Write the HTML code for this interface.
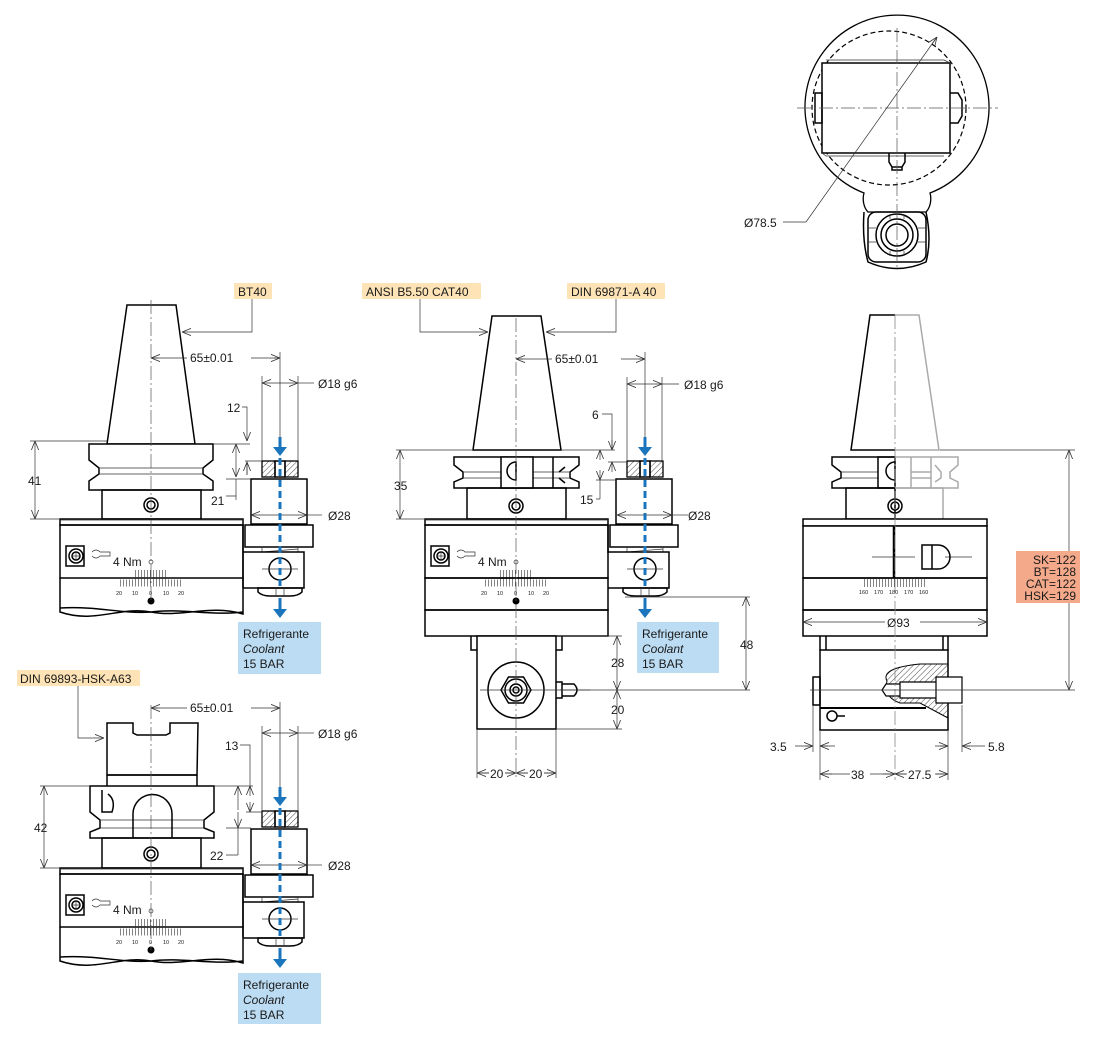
<!DOCTYPE html>
<html><head><meta charset="utf-8"><style>
html,body{margin:0;padding:0;background:#fff}
svg{display:block}
text{font-family:"Liberation Sans",Arial,sans-serif;fill:#1a1a1a}
.o{fill:none;stroke:#000;stroke-width:1.5}
.of{fill:#fff;stroke:#000;stroke-width:1.5}
.t{fill:none;stroke:#333;stroke-width:0.7}
.c{fill:none;stroke:#555;stroke-width:0.7;stroke-dasharray:14 3 2 3}
.g{fill:none;stroke:#aaa;stroke-width:1.5}
.d{fill:none;stroke:#333;stroke-width:0.7;marker-start:url(#a);marker-end:url(#a)}
.de{fill:none;stroke:#333;stroke-width:0.7;marker-end:url(#a)}
.blue{stroke:#1b75bc;stroke-width:3;fill:none}
</style></head><body>
<svg width="1104" height="1040" viewBox="0 0 1104 1040" xmlns="http://www.w3.org/2000/svg">
<defs>
<marker id="a" viewBox="0 0 10 10" refX="10" refY="5" markerWidth="9" markerHeight="9" orient="auto-start-reverse" markerUnits="userSpaceOnUse">
<path d="M0,1 L10,5 L0,9" fill="none" stroke="#333" stroke-width="0.9"/>
</marker>
<pattern id="h" width="4" height="4" patternUnits="userSpaceOnUse" patternTransform="rotate(45)">
<line x1="0" y1="0" x2="0" y2="4" stroke="#000" stroke-width="0.7"/>
</pattern>
<g id="holder">
<rect x="262" y="461" width="13" height="16" fill="url(#h)" stroke="#000" stroke-width="1.3"/>
<rect x="285" y="461" width="13" height="16" fill="url(#h)" stroke="#000" stroke-width="1.3"/>
<rect x="275" y="461" width="10" height="16" class="o"/>
<rect x="251" y="479" width="56" height="45" class="of"/>
<rect x="245" y="525" width="68" height="22" class="of"/>
<path d="M262,547 V552 H298 V547 M262,552 L298,549" class="t"/>
<path d="M243,552 H304 V588 H243" class="o"/>
<circle cx="280" cy="569" r="11" class="o"/>
<path d="M262,569 H298" class="t"/>
<path d="M258,588 H302 V592 Q298,596 290,596 H270 Q262,596 258,592 Z" class="o"/>
<path d="M276,588 V596 M284,588 V596" class="t"/>
</g>
<g id="bodyTop">
<rect x="60" y="519" width="183" height="6" class="o"/>
<rect x="60" y="525" width="183" height="53" class="o"/>
<path d="M60,520 H243" class="t"/>
<rect x="66" y="546" width="18" height="20" class="o"/>
<circle cx="76" cy="556" r="7" class="o"/><circle cx="76" cy="556" r="4" class="o"/>
<path d="M72,556 H80 M76,552 V560" class="t"/>
<path d="M92,552 q4,-4 8,0 h10 v4 h-10 q-4,4 -8,0" class="t"/>
<circle cx="151" cy="562" r="2" class="t"/>
<line x1="120" y1="583" x2="183" y2="583" stroke="#333" stroke-width="7" stroke-dasharray="0.6 2.4"/>
<line x1="135" y1="575" x2="168" y2="575" stroke="#333" stroke-width="10" stroke-dasharray="0.6 2.4"/>
<circle cx="151" cy="601" r="3.5" fill="#000"/>
</g>
</defs>

<!-- ============ DRAWING 1 : BT40 ============ -->
<rect x="234" y="283" width="38" height="16" fill="#fde3b5"/>
<text x="238" y="296" font-size="12">BT40</text>
<path d="M252,299 V332 H182" class="de"/>
<polygon points="127,305 176,305 195,444 107,444" class="of"/>
<path d="M89,444 H213 V460 L203,468 V474 L213,481 V490 H89 V481 L99,474 V468 L89,460 Z" class="of"/>
<path d="M99,468 H203 M99,474 H203" class="t"/>
<rect x="102" y="490" width="99" height="29" class="o"/>
<circle cx="151" cy="505" r="7" class="o"/><circle cx="151" cy="505" r="4" class="o"/>
<use href="#bodyTop"/>
<path d="M60,578 V612 C95,624 120,606 151,612 C182,618 210,604 243,614 V578 M60,608 C100,606 120,614 151,612 C182,608 210,616 243,612" class="o"/>
<path d="M243,525 V588" class="o"/>
<text x="113" y="566" font-size="12">4 Nm</text>
<text x="116" y="595" font-size="5.5">20</text><text x="132" y="595" font-size="5.5">10</text><text x="149" y="595" font-size="5.5">0</text><text x="163" y="595" font-size="5.5">10</text><text x="178" y="595" font-size="5.5">20</text>
<use href="#holder"/>
<line x1="151" y1="300" x2="151" y2="600" class="c"/>
<!-- dims -->
<path d="M151,358 H187 M251,358 H280" class="t"/>
<path d="M151,358 H158" class="de" style="marker-end:none;marker-start:url(#a)"/>
<path d="M274,358 H280" class="de"/>
<text x="190" y="362" font-size="12">65±0.01</text>
<path d="M280,352 V440 M262,376 V461 M298,376 V461" class="t"/>
<path d="M262,383 H298" class="d"/><path d="M298,383 H314" class="t"/>
<text x="318" y="388" font-size="12">Ø18 g6</text>
<text x="227" y="412" font-size="12">12</text>
<path d="M242,407 H247 V441" class="de"/><path d="M247,461 V475" class="t"/><path d="M247,475 V462" class="de"/>
<path d="M213,444 H250 M245,461 H262" class="t"/>
<path d="M236,500 V479" class="t"/><path d="M236,462 V444" class="de"/><path d="M236,462 V477" class="de"/>
<path d="M226,479 H251 M226,496 H236" class="t"/>
<text x="211" y="505" font-size="12">21</text>
<path d="M35,441 V519" class="d"/><path d="M30,441 H107 M30,519 H60" class="t"/>
<text x="28" y="485" font-size="12">41</text>
<path d="M251,515 H307" class="d"/><path d="M307,515 H322" class="t"/>
<text x="328" y="520" font-size="12">Ø28</text>
<path d="M280,437 V448" class="blue"/><path d="M273,447 L280,456 L287,447 Z" fill="#1b75bc"/>
<path d="M280,458 V590" class="blue" stroke-dasharray="7 4"/>
<path d="M280,598 V610" class="blue"/><path d="M273,609 L280,618 L287,609 Z" fill="#1b75bc"/>
<rect x="238" y="622" width="83" height="52" fill="#bcdcf3"/>
<text x="243" y="638" font-size="12">Refrigerante</text>
<text x="243" y="653" font-size="12" font-style="italic">Coolant</text>
<text x="243" y="668" font-size="12">15 BAR</text>

<!-- ============ DRAWING 3 : HSK ============ -->
<rect x="17" y="670" width="123" height="16" fill="#fde3b5"/>
<text x="20" y="683" font-size="12">DIN 69893-HSK-A63</text>
<path d="M78,686 V738 H104" class="de"/>
<path d="M107,723 H133 V733 L137,735 H166 L170,733 V723 H198 L197,775 H107 Z" class="of"/>
<path d="M107,775 H197 M107,786 V775 M197,786 V775" class="o"/>
<path d="M90,786 H214 V812 L204,820 V828 L214,832 V838 H90 V832 L100,828 V820 L90,812 Z" class="of"/>
<path d="M100,820 H204 M100,828 H204" class="t"/>
<path d="M133,838 V814 A19.5,19.5 0 0 1 172,814 V838" class="o"/>
<path d="M102,790 V812 H112 Q116,800 108,794" class="o"/>
<rect x="102" y="838" width="99" height="30" class="o"/>
<circle cx="151" cy="854" r="7" class="o"/><circle cx="151" cy="854" r="4" class="o"/>
<use href="#bodyTop" transform="translate(0,349)"/>
<path d="M60,927 V961 C95,973 120,955 151,961 C182,967 210,953 243,963 V927 M60,957 C100,955 120,963 151,961 C182,957 210,965 243,961" class="o"/>
<path d="M243,874 V937" class="o"/>
<text x="113" y="914" font-size="12">4 Nm</text>
<text x="116" y="944" font-size="5.5">20</text><text x="132" y="944" font-size="5.5">10</text><text x="149" y="944" font-size="5.5">0</text><text x="163" y="944" font-size="5.5">10</text><text x="178" y="944" font-size="5.5">20</text>
<use href="#holder" transform="translate(0,350)"/>
<line x1="151" y1="705" x2="151" y2="950" class="c"/>
<path d="M151,708 H187 M251,708 H280" class="t"/>
<path d="M158,708 H151" class="de"/><path d="M274,708 H280" class="de"/>
<text x="190" y="712" font-size="12">65±0.01</text>
<path d="M280,702 V790 M262,726 V812 M298,726 V812" class="t"/>
<path d="M262,733 H298" class="d"/><path d="M298,733 H314" class="t"/>
<text x="318" y="738" font-size="12">Ø18 g6</text>
<text x="225" y="750" font-size="12">13</text>
<path d="M240,745 H250 V786" class="t"/><path d="M250,796 V786" class="de"/><path d="M250,802 V812" class="de"/>
<path d="M214,786 H253 M246,812 H262" class="t"/>
<path d="M238,855 V828" class="t"/><path d="M238,810 V786" class="de"/><path d="M238,812 V828" class="de"/>
<path d="M226,828 H251 M226,855 H238" class="t"/>
<text x="210" y="860" font-size="12">22</text>
<path d="M44,786 V868" class="d"/><path d="M40,786 H90 M40,868 H60" class="t"/>
<text x="34" y="832" font-size="12">42</text>
<path d="M251,865 H307" class="d"/><path d="M307,865 H322" class="t"/>
<text x="328" y="870" font-size="12">Ø28</text>
<path d="M280,787 V798" class="blue"/><path d="M273,797 L280,806 L287,797 Z" fill="#1b75bc"/>
<path d="M280,808 V940" class="blue" stroke-dasharray="7 4"/>
<path d="M280,948 V960" class="blue"/><path d="M273,959 L280,968 L287,959 Z" fill="#1b75bc"/>
<rect x="238" y="973" width="83" height="51" fill="#bcdcf3"/>
<text x="243" y="989" font-size="12">Refrigerante</text>
<text x="243" y="1004" font-size="12" font-style="italic">Coolant</text>
<text x="243" y="1019" font-size="12">15 BAR</text>

<!-- ============ DRAWING 2 : CAT40 ============ -->
<rect x="362" y="283" width="119" height="16" fill="#fde3b5"/>
<text x="366" y="296" font-size="12">ANSI B5.50 CAT40</text>
<rect x="567" y="283" width="98" height="16" fill="#fde3b5"/>
<text x="571" y="296" font-size="12">DIN 69871-A 40</text>
<path d="M420,299 V332 H488" class="de"/>
<path d="M616,299 V332 H546" class="de"/>
<polygon points="492,316 541,316 561,450 473,450" class="of"/>
<path d="M454,457 H579 V465 L570,472 V478 L579,482 V488 H454 V482 L463,478 V472 L454,465 Z" class="of"/>
<path d="M463,472 H570 M463,478 H570" class="t"/>
<rect x="501" y="457" width="32" height="31" class="of"/>
<path d="M516,462 A9,9 0 0 0 516,480 Z" class="o"/>
<path d="M553,457 V488 M559,472 L565,467 M559,478 L565,483" class="o"/>
<rect x="467" y="488" width="99" height="31" class="o"/>
<circle cx="516" cy="506" r="7" class="o"/><circle cx="516" cy="506" r="4" class="o"/>
<use href="#bodyTop" transform="translate(365,0)"/>
<rect x="425" y="578" width="183" height="32" class="o"/>
<rect x="425" y="610" width="183" height="26" class="o"/>
<path d="M608,525 V553" class="o"/>
<text x="478" y="566" font-size="12">4 Nm</text>
<text x="481" y="595" font-size="5.5">20</text><text x="497" y="595" font-size="5.5">10</text><text x="514" y="595" font-size="5.5">0</text><text x="528" y="595" font-size="5.5">10</text><text x="543" y="595" font-size="5.5">20</text>
<use href="#holder" transform="translate(365,0)"/>
<rect x="477" y="636" width="79" height="93" class="of"/>
<path d="M471,636 V650 H477 M562,636 V650 H556" class="o"/>
<circle cx="516" cy="690" r="28" class="o"/>
<polygon points="501,690 508.5,677 523.5,677 531,690 523.5,703 508.5,703" class="o"/>
<circle cx="516" cy="690" r="11" class="o"/><circle cx="516" cy="690" r="6" class="o"/><circle cx="516" cy="690" r="3" class="o"/>
<path d="M556,682 H562 V698 H556 M562,684 H574 Q580,690 574,696 H562" class="o"/>
<line x1="516" y1="318" x2="516" y2="780" class="c"/>
<path d="M480,690 H590" class="t"/>
<path d="M516,359 H552 M621,359 H645" class="t"/>
<path d="M523,359 H516" class="de"/><path d="M639,359 H645" class="de"/>
<text x="555" y="363" font-size="12">65±0.01</text>
<path d="M645,352 V440 M627,377 V462 M662,377 V462" class="t"/>
<path d="M627,384 H662" class="d"/><path d="M662,384 H679" class="t"/>
<text x="684" y="389" font-size="12">Ø18 g6</text>
<text x="592" y="419" font-size="12">6</text>
<path d="M602,414 H612 V450" class="t"/><path d="M612,440 V450" class="de"/><path d="M612,472 V462" class="de"/>
<path d="M561,450 H615 M608,462 H627" class="t"/>
<path d="M600,499 V480" class="t"/><path d="M600,460 V450" class="de"/><path d="M600,470 V480" class="de"/>
<path d="M596,480 H617 M596,499 H600" class="t"/>
<text x="580" y="504" font-size="12">15</text>
<path d="M400,450 V519" class="d"/><path d="M396,450 H473 M396,519 H425" class="t"/>
<text x="394" y="490" font-size="12">35</text>
<path d="M617,515 H672" class="d"/><path d="M672,515 H688" class="t"/>
<text x="688" y="520" font-size="12">Ø28</text>
<path d="M625,597 H750 M560,690 H750" class="t"/>
<path d="M746,597 V690" class="d"/>
<text x="740" y="649" font-size="12">48</text>
<path d="M556,636 H622 M556,729 H622" class="t"/>
<path d="M617,636 V690" class="d"/><path d="M617,690 V729" class="d"/>
<text x="611" y="667" font-size="12">28</text>
<text x="611" y="714" font-size="12">20</text>
<path d="M477,729 V778 M556,729 V778" class="t"/>
<path d="M477,773 H489 M505,773 H516 M516,773 H528 M544,773 H556" class="t"/>
<path d="M489,773 H477" class="de"/><path d="M505,773 H516" class="de"/><path d="M528,773 H516" class="de"/><path d="M544,773 H556" class="de"/>
<text x="490" y="778" font-size="12">20</text><text x="529" y="778" font-size="12">20</text>
<path d="M645,437 V448" class="blue"/><path d="M638,447 L645,456 L652,447 Z" fill="#1b75bc"/>
<path d="M645,458 V590" class="blue" stroke-dasharray="7 4"/>
<path d="M645,598 V610" class="blue"/><path d="M638,609 L645,618 L652,609 Z" fill="#1b75bc"/>
<rect x="637" y="622" width="82" height="51" fill="#bcdcf3"/>
<text x="642" y="638" font-size="12">Refrigerante</text>
<text x="642" y="653" font-size="12" font-style="italic">Coolant</text>
<text x="642" y="668" font-size="12">15 BAR</text>

<!-- ============ DRAWING 4 : side ============ -->
<path d="M895,315 H870 L851,450 H895" class="of"/>
<path d="M895,315 H919 L939,450 H895" class="g"/>
<path d="M895,457 H832 V465 L841,472 V478 L832,482 V488 H895" class="of"/>
<path d="M841,472 H878 M841,478 H878" class="t"/>
<rect x="878" y="457" width="17" height="31" class="o"/>
<path d="M895,462 A9,9 0 0 0 895,480" class="o"/>
<path d="M895,457 H958 V465 L950,472 V478 L958,482 V488 H895 M911,457 V488 M931,457 V488 M935,465 L941,472 V478 L935,482 M911,472 H931 M911,478 H931" class="g"/>
<rect x="846" y="488" width="49" height="31" class="o"/>
<path d="M895,488 H943 V519" class="g"/>
<circle cx="895" cy="506" r="7" class="o"/><circle cx="895" cy="506" r="4" class="o"/>
<rect x="803" y="519" width="184" height="7" class="of"/>
<rect x="803" y="526" width="184" height="52" class="of"/>
<path d="M894,526 V578" stroke="#000" stroke-width="2.5"/>
<path d="M872,557 H915 M945,557 H972" class="t"/>
<path d="M922,545 H938 A12,12 0 0 1 938,569 H922 Z M932,545 V569" class="o"/>
<rect x="803" y="578" width="184" height="32" class="o"/>
<line x1="864" y1="583" x2="926" y2="583" stroke="#333" stroke-width="8" stroke-dasharray="0.6 2.4"/>
<text x="859" y="594" font-size="5.5">160</text><text x="874" y="594" font-size="5.5">170</text><text x="889" y="594" font-size="5.5">180</text><text x="904" y="594" font-size="5.5">170</text><text x="919" y="594" font-size="5.5">160</text>
<rect x="803" y="610" width="184" height="26" class="o"/>
<path d="M803,622 H885 M920,622 H987" class="d"/>
<text x="887" y="627" font-size="12">Ø93</text>
<path d="M820,636 V650 M826,636 V650 M943,636 V650 M948,636 V650" class="o"/>
<rect x="820" y="650" width="128" height="80" class="of"/>
<path d="M813,677 H820 V705 H813 Z" class="o"/>
<path d="M820,708 H926" stroke="#000" stroke-width="2"/>
<path d="M887,681 Q880,668 920,664 H948 V718 L920,703 H900 Q883,697 887,681 Z" fill="url(#h)" stroke="#000" stroke-width="1"/>
<path d="M882,690 L886,684 H900 V696 H886 Z M900,682 H936 V698 H900 Z M936,677 H962 V703 H936 Z" fill="#fff" stroke="#000" stroke-width="1.2"/>
<circle cx="832" cy="716" r="5" class="o"/><path d="M837,716 H845" class="o"/>
<line x1="895" y1="315" x2="895" y2="780" stroke="#888" stroke-width="0.8" stroke-dasharray="14 3 2 3"/>
<path d="M810,690 H1075 M940,450 H1075" class="t"/>
<path d="M1069,450 V690" class="d"/>
<rect x="1016" y="551" width="64" height="52" fill="#f4a98a"/>
<text x="1076" y="564" font-size="12" text-anchor="end">SK=122</text>
<text x="1076" y="576" font-size="12" text-anchor="end">BT=128</text>
<text x="1076" y="588" font-size="12" text-anchor="end">CAT=122</text>
<text x="1076" y="600" font-size="12" text-anchor="end">HSK=129</text>
<path d="M813,705 V752 M820,730 V780 M948,730 V780 M962,705 V752" class="t"/>
<path d="M795,746 H813 M820,746 H835 M935,746 H948 M962,746 H985" class="t"/>
<path d="M805,746 H813" class="de"/><path d="M828,746 H820" class="de"/><path d="M940,746 H948" class="de"/><path d="M970,746 H962" class="de"/>
<text x="770" y="751" font-size="12">3.5</text>
<text x="988" y="751" font-size="12">5.8</text>
<path d="M820,774 H850 M870,774 H895 M895,774 H906 M935,774 H948" class="t"/>
<path d="M832,774 H820" class="de"/><path d="M883,774 H895" class="de"/><path d="M907,774 H895" class="de"/><path d="M936,774 H948" class="de"/>
<text x="851" y="779" font-size="12">38</text>
<text x="908" y="779" font-size="12">27.5</text>

<!-- ============ TOP VIEW ============ -->
<path d="M864,193 A92,92 0 1 1 930,193 C932,200 930,208 926,212 H868 C864,208 862,200 864,193 Z" fill="none" stroke="#000" stroke-width="1.3"/>
<circle cx="889" cy="108" r="77" fill="none" stroke="#000" stroke-width="1.2" stroke-dasharray="5 3"/>
<rect x="822" y="63" width="128" height="90" class="of"/>
<path d="M826,60 H944 L950,63 M822,153 L826,156 H944" class="t"/>
<rect x="815" y="93" width="7" height="30" class="o"/>
<path d="M950,93 H958 L962,100 V116 L958,123 H950" class="o"/>
<path d="M889,153 V162 L892,167 H902 L905,162 V153 M892,167 V170 H902 V167" class="o"/>
<path d="M864,212 Q862,240 868,262 Q897,275 926,262 Q932,240 926,212" class="o"/>
<rect x="868" y="212" width="58" height="50" rx="8" class="o"/>
<circle cx="897" cy="235" r="21" class="o"/><circle cx="897" cy="235" r="16" class="o"/><circle cx="897" cy="235" r="11" class="o"/>
<path d="M876,228 H868 M876,242 H868 M918,228 H926 M918,242 H926 M890,214 V219 M904,214 V219 M890,256 V251 M904,256 V251" class="t"/>
<path d="M797,108 H998" class="c"/>
<path d="M897,28 V270" class="c"/>
<path d="M937,37 L806,222 H783" class="t"/>
<path d="M932,44 L937,37" class="de"/>
<text x="744" y="227" font-size="12">Ø78.5</text>
</svg>
</body></html>
